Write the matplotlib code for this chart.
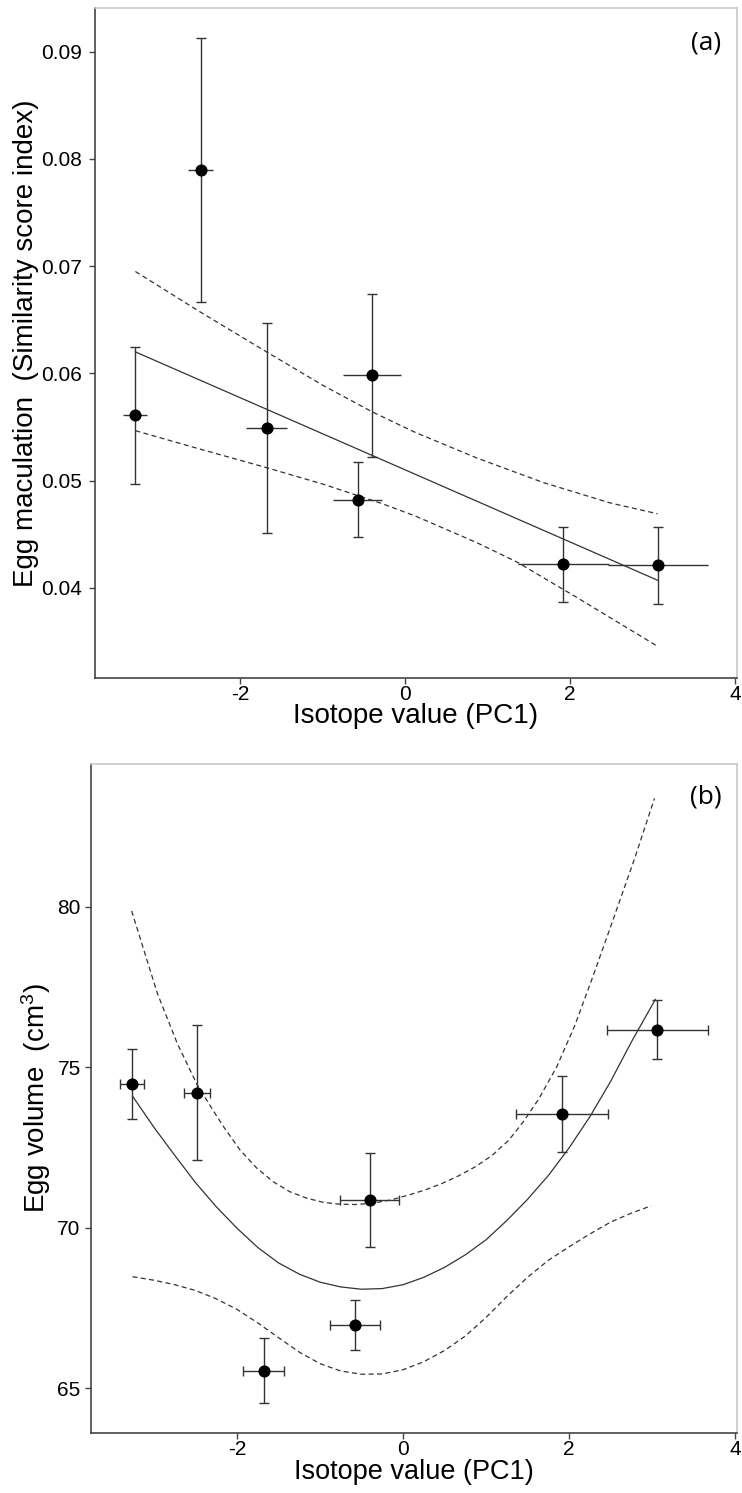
import matplotlib
matplotlib.use("Agg")
import matplotlib.pyplot as plt

plt.rcParams['font.family'] = ['Liberation Sans', 'DejaVu Sans']
plt.rcParams['mathtext.default'] = 'regular'

# isotope PC1 per group (shared by both panels) and its error
iso_x = [-3.27, -2.48, -1.68, -0.575, -0.40, 1.92, 3.065]
iso_err = [0.146, 0.156, 0.243, 0.30, 0.356, 0.554, 0.61]

# (a) egg maculation (similarity score index)
mac_y = [0.0561, 0.0790, 0.0549, 0.0482, 0.0598, 0.0422, 0.0421]
mac_err = [0.0064, 0.0123, 0.0098, 0.0035, 0.0076, 0.0035, 0.0036]

fit_a_x = [-3.27, 3.06]
fit_a_y = [0.0620, 0.0407]
up_a_x = [-3.27, -2.5, -1.68, -0.99, -0.385, 0.12, 0.87, 1.68, 2.49, 3.06]
up_a_y = [0.0695, 0.0658, 0.0620, 0.05885, 0.05635, 0.0545, 0.0521, 0.0498, 0.0479, 0.0469]
lo_a_x = [-3.27, -2.61, -1.68, -0.99, -0.30, 0.12, 0.87, 1.355, 2.08, 3.055]
lo_a_y = [0.05465, 0.0532, 0.0512, 0.04965, 0.0479, 0.0467, 0.0442, 0.0424, 0.0391, 0.03456]

# (b) egg volume (cm3)
vol_y = [74.47, 74.20, 65.54, 66.96, 70.86, 73.54, 76.17]
vol_err = [1.09, 2.10, 1.01, 0.78, 1.46, 1.19, 0.93]

fit_b_x = [-3.26, -3.0, -2.75, -2.5, -2.25, -2.0, -1.75, -1.5, -1.25, -1.0,
           -0.75, -0.5, -0.25, 0.0, 0.25, 0.5, 0.75, 1.0, 1.25, 1.5, 1.75,
           2.0, 2.25, 2.5, 2.75, 3.04]
fit_b_y = [74.10, 73.12, 72.25, 71.40, 70.65, 69.98, 69.38, 68.90, 68.55, 68.30,
           68.15, 68.08, 68.10, 68.22, 68.45, 68.76, 69.15, 69.62, 70.22, 70.88, 71.62,
           72.48, 73.45, 74.55, 75.78, 77.11]
up_b_x = [-3.27, -2.96, -2.72, -2.48, -2.3, -2.164, -1.964, -1.764, -1.565, -1.365,
          -1.165, -0.965, -0.765, -0.57, -0.37, -0.15, 0.074, 0.274, 0.474, 0.674,
          0.874, 1.073, 1.273, 1.45, 1.633, 1.85, 2.07, 2.27, 2.47, 2.79, 3.03]
up_b_y = [79.87, 77.30, 75.74, 74.45, 73.70, 73.15, 72.42, 71.86, 71.43, 71.12,
          70.92, 70.79, 70.73, 70.72, 70.76, 70.86, 71.02, 71.18, 71.38, 71.62,
          71.90, 72.25, 72.72, 73.30, 74.00, 75.00, 76.30, 77.70, 79.15, 81.50, 83.38]
lo_b_x = [-3.26, -3.0, -2.75, -2.5, -2.25, -2.0, -1.75, -1.5, -1.25, -1.0,
          -0.75, -0.5, -0.25, 0.0, 0.25, 0.5, 0.75, 1.0, 1.25, 1.5, 1.75,
          2.0, 2.25, 2.5, 2.75, 2.99]
lo_b_y = [68.47, 68.36, 68.22, 68.04, 67.78, 67.45, 67.03, 66.57, 66.12, 65.76,
          65.53, 65.43, 65.44, 65.57, 65.82, 66.17, 66.62, 67.20, 67.85, 68.45, 68.98,
          69.40, 69.80, 70.17, 70.45, 70.68]

dark = '#333333'
dash = (0, (4, 2.7))

fig = plt.figure(figsize=(7.42, 14.93), dpi=100)
ax_a = fig.add_axes([0.1280, 0.5457, 0.8648, 0.4487])
ax_b = fig.add_axes([0.1226, 0.0400, 0.8702, 0.4483])


def style(ax, ypad):
    for s in ['left', 'bottom']:
        ax.spines[s].set_color('#444444')
        ax.spines[s].set_linewidth(1.2)
    for s in ['top', 'right']:
        ax.spines[s].set_color('#c8c8c8')
        ax.spines[s].set_linewidth(1.2)
    ax.tick_params(axis='both', direction='out', length=4, width=1,
                   color='#444444', labelsize=15, top=False, right=False)
    ax.tick_params(axis='x', pad=1)
    ax.tick_params(axis='y', pad=ypad)
    ax.set_xlim(-3.76, 4.02)
    ax.set_xticks([-2, 0, 2, 4])
    ax.set_xticklabels(['-2', '0', '2', '4'])


# panel (a)
ax = ax_a
style(ax, 5.5)
ax.plot(fit_a_x, fit_a_y, color=dark, lw=0.9, zorder=2)
ax.plot(up_a_x, up_a_y, color=dark, lw=0.9, ls=dash, zorder=2)
ax.plot(lo_a_x, lo_a_y, color=dark, lw=0.9, ls=dash, zorder=2)
ax.errorbar(iso_x, mac_y, yerr=mac_err, fmt='none', ecolor=dark,
            elinewidth=1, capsize=3.4, capthick=1, zorder=3)
ax.errorbar(iso_x, mac_y, xerr=iso_err, fmt='none', ecolor=dark,
            elinewidth=1, capsize=0, zorder=3)
ax.plot(iso_x, mac_y, 'o', color='black', ms=7.7, zorder=4)
ax.set_ylim(0.03155, 0.09405)
ax.set_yticks([0.04, 0.05, 0.06, 0.07, 0.08, 0.09])
ax.set_yticklabels(['0.04', '0.05', '0.06', '0.07', '0.08', '0.09'])
ax.set_xlabel('Isotope value (PC1)', fontsize=20, labelpad=-1)
ax.set_ylabel('Egg maculation  (Similarity score index)', fontsize=20)
ax.yaxis.set_label_coords(-0.107, 0.5)
ax.yaxis.label.set_verticalalignment('center')
ax.text(0.953, 0.949, '(a)', transform=ax.transAxes, ha='center', va='center',
        fontsize=19, family=['Open Sans', 'DejaVu Sans'])

# panel (b)
ax = ax_b
style(ax, 3.4)
ax.plot(fit_b_x, fit_b_y, color=dark, lw=0.9, zorder=2)
ax.plot(up_b_x, up_b_y, color=dark, lw=0.9, ls=dash, zorder=2)
ax.plot(lo_b_x, lo_b_y, color=dark, lw=0.9, ls=dash, zorder=2)
ax.errorbar(iso_x, vol_y, xerr=iso_err, yerr=vol_err, fmt='none', ecolor=dark,
            elinewidth=1, capsize=3.4, capthick=1, zorder=3)
ax.plot(iso_x, vol_y, 'o', color='black', ms=7.7, zorder=4)
ax.set_ylim(63.59, 84.45)
ax.set_yticks([65, 70, 75, 80])
ax.set_yticklabels(['65', '70', '75', '80'])
ax.set_xlabel('Isotope value (PC1)', fontsize=19.5, labelpad=0)
ax.set_ylabel('Egg volume  (cm$^3$)', fontsize=20)
ax.yaxis.set_label_coords(-0.085, 0.5)
ax.yaxis.label.set_verticalalignment('center')
ax.text(0.952, 0.951, '(b)', transform=ax.transAxes, ha='center', va='center',
        fontsize=19, family=['Open Sans', 'DejaVu Sans'])

fig.savefig('out.png', dpi=100)
